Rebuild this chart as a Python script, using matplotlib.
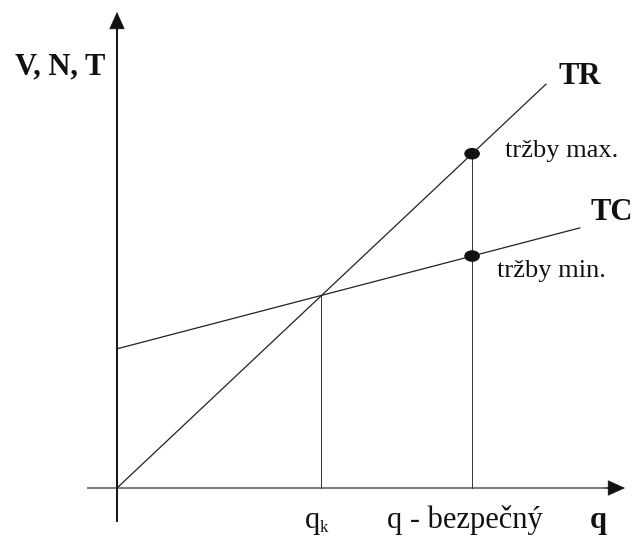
import numpy as np
import matplotlib.pyplot as plt
from matplotlib.patches import Ellipse

plt.rcParams['font.family'] = ['Liberation Serif', 'DejaVu Serif']

# TR and TC line end points (q, value)
tr_q = [0.0, 8.445]
tr_v = [0.0, 7.95]
tc_q = [0.0, 9.11]
tc_v = [2.74, 5.12]

q_k = 4.02      # break-even point
q_bez = 6.99    # "safe" quantity

labels_x = ['q', 'q - bezpečný', 'q']
label_y = 'V, N, T'

fig = plt.figure(figsize=(6.34, 5.38), dpi=100)
ax = fig.add_axes([0, 0, 1, 1])
ax.set_xlim(-2.303, 10.177)
ax.set_ylim(-0.984, 9.606)
ax.axis('off')

# axes with arrows
ax.plot([-0.59, 9.7], [0, 0], color='#808080', lw=1.5, solid_capstyle='butt')
ax.annotate('', xy=(10.0, 0), xytext=(9.6, 0),
            arrowprops=dict(arrowstyle='-|>,head_length=1.15,head_width=0.52',
                            mutation_scale=10, color='#111111', lw=0.5,
                            shrinkA=0, shrinkB=0))
ax.plot([0, 0], [-0.669, 9.1], color='#111111', lw=1.4, solid_capstyle='butt')
ax.annotate('', xy=(0, 9.37), xytext=(0, 9.0),
            arrowprops=dict(arrowstyle='-|>,head_length=1.15,head_width=0.52',
                            mutation_scale=10, color='#111111', lw=0.5,
                            shrinkA=0, shrinkB=0))

# TR, TC
ax.plot(tr_q, tr_v, color='#222222', lw=0.9)
ax.plot(tc_q, tc_v, color='#222222', lw=0.9)

# guide lines
tr_bez = np.interp(q_bez, tr_q, tr_v)
tc_bez = np.interp(q_bez, tc_q, tc_v)
tr_k = np.interp(q_k, tr_q, tr_v)
ax.plot([q_k, q_k], [0, tr_k], color='#333333', lw=0.7)
ax.plot([q_bez, q_bez], [0, tr_bez], color='#333333', lw=0.7)

# dots
for yv in [tr_bez, tc_bez]:
    ax.add_patch(Ellipse((q_bez, yv), 0.28, 0.2, color='#111111', zorder=5))

# texts
ax.text(-2.008, 8.15, label_y, fontsize=22, fontweight='bold', color='#111111')
ax.text(8.70, 7.95, 'TR', fontsize=22, fontweight='bold', color='#111111')
ax.text(9.33, 5.28, 'TC', fontsize=22, fontweight='bold', color='#111111')
ax.text(7.64, 6.52, 'tržby max.', fontsize=19, color='#111111')
ax.text(7.48, 4.15, 'tržby min.', fontsize=19, color='#111111')

ax.text(3.70, -0.787, labels_x[0], fontsize=22, color='#111111')
ax.text(3.99, -0.87, 'k', fontsize=12, color='#111111')
ax.text(5.31, -0.787, labels_x[1], fontsize=22, color='#111111')
ax.text(9.31, -0.787, labels_x[2], fontsize=22, fontweight='bold', color='#111111')

fig.savefig('out.png', dpi=100)
